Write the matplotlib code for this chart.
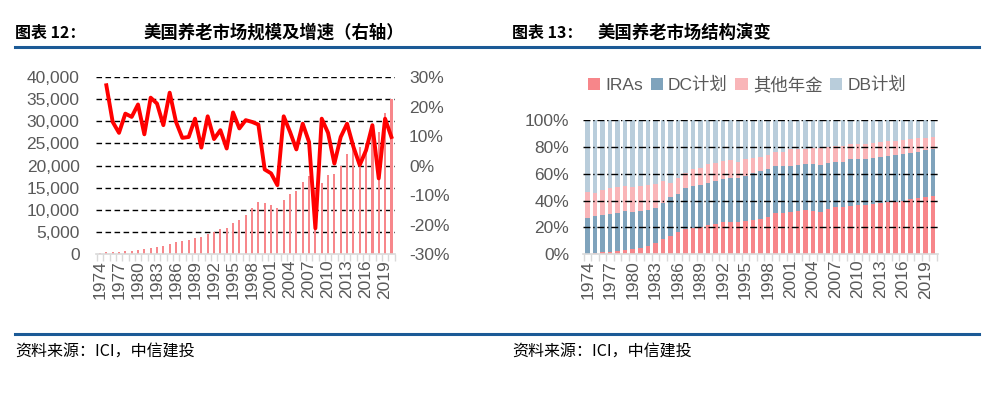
import matplotlib
matplotlib.use('Agg')
import matplotlib.pyplot as plt
import numpy as np
from matplotlib.lines import Line2D
from matplotlib.ticker import FuncFormatter

plt.rcParams['font.family'] = ['Liberation Sans', 'Noto Sans CJK SC', 'DejaVu Sans']

years = list(range(1974, 2021))

# 美国养老市场规模（十亿美元）
market_size = [370, 470, 540, 600, 710, 820, 990, 1100, 1350, 1640,
               1860, 2320, 2670, 2920, 3200, 3710, 3930, 4590, 5000, 5610,
               5930, 7000, 7700, 8900, 10400, 11700, 11500, 11100, 10500, 12200,
               13600, 14300, 16200, 17600, 14400, 16000, 17900, 18100, 19900, 22700,
               24000, 24100, 25100, 28500, 27700, 31800, 35000]

# 增速（%），从1975年开始
growth_years = list(range(1975, 2021))
growth = [27.2, 14.8, 11.1, 17.6, 16.5, 20.7, 10.6, 23.0, 21.0, 13.7,
          24.7, 14.8, 9.4, 9.7, 15.9, 6.1, 16.7, 9.0, 12.0, 5.8,
          18.0, 12.6, 15.4, 14.8, 13.9, -1.3, -2.6, -6.6, 16.7, 11.4,
          5.5, 14.2, 8.0, -21.2, 15.9, 11.1, 0.7, 9.7, 14.2, 6.4,
          0.2, 5.2, 13.7, -4.3, 15.9, 9.7]

# 结构（%）
ira = [0.0, 0.7, 1.5, 2.0, 2.5, 3.2, 3.7, 4.5, 6.5, 8.7,
       11.4, 13.6, 16.6, 18.9, 19.9, 20.6, 21.8, 22.6, 23.8, 24.3,
       24.3, 25.1, 25.6, 26.3, 28.0, 30.5, 30.5, 31.5, 32.3, 33.0,
       32.5, 31.8, 33.7, 35.0, 35.5, 36.2, 36.7, 36.7, 37.5, 38.0,
       38.7, 39.2, 40.0, 40.9, 41.7, 42.4, 43.4]
dc = [26.8, 28.1, 27.8, 28.0, 28.3, 29.1, 27.6, 28.0, 26.8, 26.0,
      26.6, 28.8, 28.3, 30.2, 31.0, 31.0, 31.5, 32.2, 32.3, 32.5,
      32.5, 33.5, 34.7, 35.7, 35.5, 35.3, 35.3, 34.0, 34.2, 34.0,
      34.5, 34.7, 34.5, 34.0, 33.5, 34.5, 34.3, 34.0, 34.0, 34.7,
      34.5, 34.7, 34.4, 34.8, 34.5, 35.3, 35.3]
other = [19.4, 16.9, 18.3, 19.6, 19.1, 18.6, 18.6, 18.6, 18.1, 17.4,
         16.8, 10.5, 11.7, 11.2, 12.6, 12.9, 13.7, 12.9, 13.1, 13.4,
         12.2, 12.4, 11.7, 10.2, 10.7, 10.6, 10.6, 12.7, 11.7, 11.7,
         11.9, 12.4, 11.5, 11.6, 11.6, 11.2, 11.4, 11.4, 11.1, 11.2,
         11.2, 10.7, 10.7, 10.2, 10.2, 9.1, 8.9]
db = [53.8, 54.3, 52.4, 50.4, 50.1, 49.1, 50.1, 48.9, 48.6, 47.9,
      45.2, 47.1, 43.4, 39.7, 36.5, 35.5, 33.0, 32.3, 30.8, 29.8,
      31.0, 29.0, 28.0, 27.8, 25.8, 23.6, 23.6, 21.8, 21.8, 21.3,
      21.1, 21.1, 20.3, 19.4, 19.4, 18.1, 17.6, 17.9, 17.4, 16.1,
      15.6, 15.4, 14.9, 14.1, 13.6, 13.2, 12.4]

series_names = ['IRAs', 'DC计划', '其他年金', 'DB计划']
series_colors = ['#F7868A', '#7FA3BC', '#F9B5B8', '#B9CDDB']

W, H = 1002, 397
fig = plt.figure(figsize=(W / 100, H / 100), dpi=100)

grey = '#595959'
x = np.arange(len(years))
tick_idx = [i for i, y in enumerate(years) if (y - 1974) % 3 == 0]


def style_x(ax):
    ax.set_xlim(-0.6, len(years) - 0.4)
    ax.set_xticks(tick_idx)
    ax.set_xticklabels([str(years[i]) for i in tick_idx], rotation=90, fontsize=12.5, color=grey)
    ax.set_xticks(np.arange(len(years) + 1) - 0.5, minor=True)
    ax.tick_params(axis='x', which='major', length=0, pad=4)
    ax.tick_params(axis='x', which='minor', length=5, color='#D9D9D9', width=1)
    for s in ['top', 'right', 'left']:
        ax.spines[s].set_visible(False)
    ax.spines['bottom'].set_color('#D9D9D9')
    ax.spines['bottom'].set_linewidth(1.2)


# 左图
ax1 = fig.add_axes([96.2 / W, 1 - 254.3 / H, 299 / W, 177.3 / H])
ax1.bar(x, market_size, width=0.35, color='#F7878B', zorder=2)
ax1.set_ylim(0, 40000)
ax1.set_yticks(range(0, 40001, 5000))
ax1.yaxis.set_major_formatter(FuncFormatter(lambda v, p: f'{int(v):,}'))
ax1.tick_params(axis='y', length=0, labelsize=12.5, labelcolor=grey, pad=12)
for v in range(5000, 40001, 5000):
    ax1.axhline(v, color='black', lw=1, ls=(0, (4, 2.5)), zorder=1)
style_x(ax1)

ax2 = ax1.twinx()
gx = [years.index(y) for y in growth_years]
ax2.plot(gx, growth, color='#FF0000', lw=2.8, zorder=3)
ax2.set_ylim(-30, 30)
ax2.set_yticks(range(-30, 31, 10))
ax2.yaxis.set_major_formatter(FuncFormatter(lambda v, p: f'{int(v)}%'))
ax2.tick_params(axis='y', length=0, labelsize=12.5, labelcolor=grey, pad=10)
for s in ax2.spines.values():
    s.set_visible(False)

# 右图
ax3 = fig.add_axes([583.2 / W, 1 - 254.3 / H, 354.3 / W, 134.3 / H])
bottom = np.zeros(len(years))
for vals, name, col in zip([ira, dc, other, db], series_names, series_colors):
    ax3.bar(x, vals, width=0.6, bottom=bottom, color=col, label=name, zorder=2)
    bottom += np.array(vals)
ax3.set_ylim(0, 100)
ax3.set_yticks(range(0, 101, 20))
ax3.yaxis.set_major_formatter(FuncFormatter(lambda v, p: f'{int(v)}%'))
ax3.tick_params(axis='y', length=0, labelsize=12.5, labelcolor=grey, pad=10)
for v in range(20, 101, 20):
    ax3.axhline(v, color='black', lw=1, ls=(0, (5, 2, 1, 2)), zorder=3)
style_x(ax3)

fig.legend(*ax3.get_legend_handles_labels(), loc='center left',
           bbox_to_anchor=(572 / W, 1 - 85 / H), ncol=4, frameon=False,
           fontsize=12.5, handlelength=0.7, handleheight=0.7, handletextpad=0.3,
           columnspacing=0.45, labelcolor=grey)

# 标题、分隔线、来源
fig.text(15 / W, 1 - 33 / H, '图表 12：', fontsize=11.5, fontweight='bold',
         va='center', family=['Noto Sans CJK SC'])
fig.text(143 / W, 1 - 33 / H, '美国养老市场规模及增速（右轴）', fontsize=12.5,
         fontweight='bold', va='center', family=['Noto Sans CJK SC'])
fig.text(512 / W, 1 - 33 / H, '图表 13：', fontsize=11.5, fontweight='bold',
         va='center', family=['Noto Sans CJK SC'])
fig.text(597 / W, 1 - 33 / H, '美国养老市场结构演变', fontsize=12.5,
         fontweight='bold', va='center', family=['Noto Sans CJK SC'])

for yy in [47, 334]:
    fig.add_artist(Line2D([15 / W, 979 / W], [1 - yy / H, 1 - yy / H],
                          color='#1B5A96', lw=2.2))

fig.text(15 / W, 1 - 352 / H, '资料来源：ICI，中信建投', fontsize=11.5, style='italic',
         va='center', family=['Noto Sans CJK SC'])
fig.text(512 / W, 1 - 352 / H, '资料来源：ICI，中信建投', fontsize=11.5, style='italic',
         va='center', family=['Noto Sans CJK SC'])

fig.savefig('out.png', dpi=100)
